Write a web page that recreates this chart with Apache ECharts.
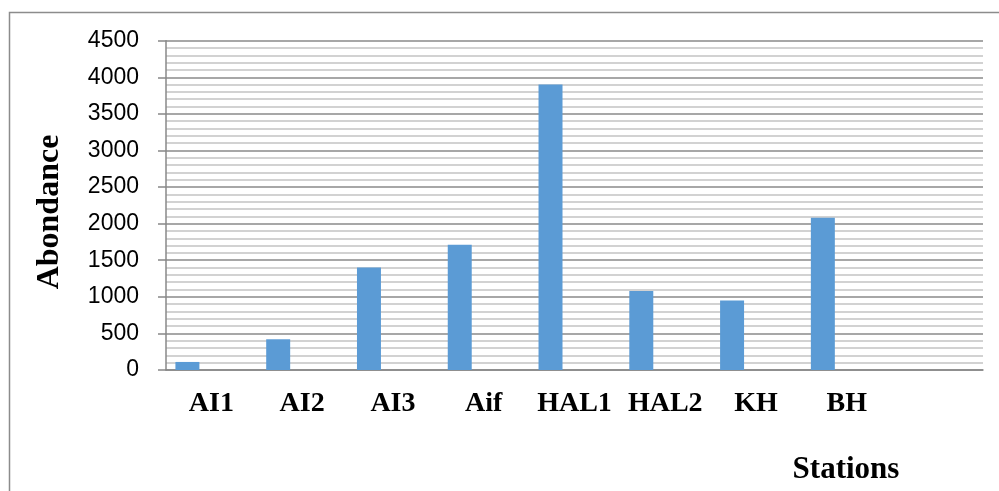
<!DOCTYPE html>
<html>
<head>
<meta charset="utf-8">
<script src="https://cdn.jsdelivr.net/npm/echarts@6/dist/echarts.min.js"></script>
<style>
html,body{margin:0;padding:0;background:#fff;}
#c{width:999px;height:491px;}
</style>
</head>
<body>
<div id="c"></div>
<script>
var categories = ['AI1', 'AI2', 'AI3', 'Aif', 'HAL1', 'HAL2', 'KH', 'BH', ''];
var abundance = [110, 420, 1400, 1710, 3900, 1080, 950, 2080, null];
var emptySeries = [null, null, null, null, null, null, null, null, null];
var yTicks = [0, 500, 1000, 1500, 2000, 2500, 3000, 3500, 4000, 4500];
var yAxisTitle = 'Abondance';
var xAxisTitle = 'Stations';

var chart = echarts.init(document.getElementById('c'));
chart.setOption({
  animation: false,
  backgroundColor: '#ffffff',
  grid: { left: 166, right: 16, top: 40.7, bottom: 121, containLabel: false },
  xAxis: {
    type: 'category',
    data: categories,
    axisLine: { show: true, lineStyle: { color: '#888888', width: 1.5 } },
    axisTick: { show: false },
    axisLabel: {
      interval: 0,
      margin: 20,
      fontFamily: 'Liberation Serif',
      fontWeight: 'bold',
      fontSize: 28,
      color: '#000'
    }
  },
  yAxis: {
    type: 'value',
    min: yTicks[0],
    max: yTicks[yTicks.length - 1],
    interval: 500,
    axisLine: { show: true, lineStyle: { color: '#888888', width: 1.5 } },
    axisTick: { show: true, length: 8, lineStyle: { color: '#888888', width: 1.5 } },
    axisLabel: {
      margin: 27,
      fontFamily: 'Liberation Sans',
      fontSize: 23,
      color: '#000',
      formatter: function (v) { return String(v); }
    },
    splitLine: { show: true, lineStyle: { color: '#8a8a8a', width: 1.5 } },
    minorTick: { show: false, splitNumber: 5 },
    minorSplitLine: { show: true, lineStyle: { color: '#c4c4c4', width: 1.5 } }
  },
  series: [
    { type: 'bar', data: abundance, barGap: '0%', barCategoryGap: '20.75%',
      itemStyle: { color: '#5b9bd5' } },
    { type: 'bar', data: emptySeries, itemStyle: { color: '#ed7d31' } },
    { type: 'bar', data: emptySeries, itemStyle: { color: '#a5a5a5' } }
  ],
  graphic: [
    { type: 'rect', silent: true, z: -1,
      shape: { x: 9.5, y: 12.5, width: 1200, height: 700 },
      style: { fill: 'none', stroke: '#8c8c8c', lineWidth: 1.5 } },
    { type: 'text', x: 50, y: 212, rotation: Math.PI / 2,
      style: { text: yAxisTitle, font: 'bold 32px "Liberation Serif"', fill: '#000',
               textAlign: 'center', textVerticalAlign: 'middle' } },
    { type: 'text', x: 846, y: 470,
      style: { text: xAxisTitle, font: 'bold 31px "Liberation Serif"', fill: '#000',
               textAlign: 'center', textVerticalAlign: 'middle' } }
  ]
});
</script>
</body>
</html>
